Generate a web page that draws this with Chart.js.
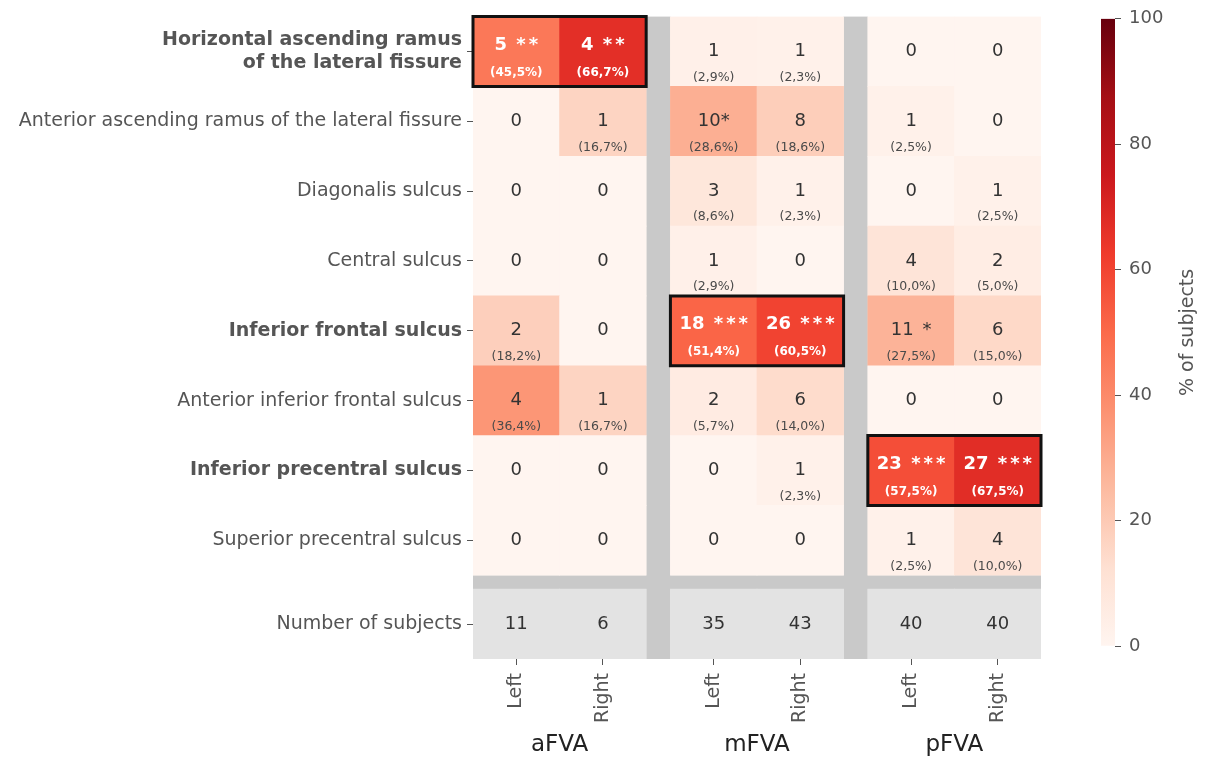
<!DOCTYPE html>
<html>
<head>
<meta charset="utf-8">
<script src="https://cdn.jsdelivr.net/npm/chart.js@4.4.1/dist/chart.umd.min.js"></script>
<style>
  html, body { margin: 0; padding: 0; background: #fff; }
  #heat { position: absolute; left: 0; top: 0; }
  #cbar { position: absolute; left: 1060px; top: 0; }
</style>
</head>
<body>
<canvas id="heat" width="1060" height="758"></canvas>
<canvas id="cbar" width="145" height="700"></canvas>
<script>
// --- data ---
const rowLabels = [
  ["Horizontal ascending ramus", "of the lateral fissure"],
  "Anterior ascending ramus of the lateral fissure",
  "Diagonalis sulcus",
  "Central sulcus",
  "Inferior frontal sulcus",
  "Anterior inferior frontal sulcus",
  "Inferior precentral sulcus",
  "Superior precentral sulcus",
  "Number of subjects"
];
const boldRows = [0, 4, 6];
const groups = ["aFVA", "mFVA", "pFVA"];
const sides = ["Left", "Right"];

// columns: aFVA L, aFVA R, mFVA L, mFVA R, pFVA L, pFVA R
const counts = [
  [5, 4, 1, 1, 0, 0],
  [0, 1, 10, 8, 1, 0],
  [0, 0, 3, 1, 0, 1],
  [0, 0, 1, 0, 4, 2],
  [2, 0, 18, 26, 11, 6],
  [4, 1, 2, 6, 0, 0],
  [0, 0, 0, 1, 23, 27],
  [0, 0, 0, 0, 1, 4]
];
const percents = [
  [45.5, 66.7, 2.9, 2.3, 0, 0],
  [0, 16.7, 28.6, 18.6, 2.5, 0],
  [0, 0, 8.6, 2.3, 0, 2.5],
  [0, 0, 2.9, 0, 10.0, 5.0],
  [18.2, 0, 51.4, 60.5, 27.5, 15.0],
  [36.4, 16.7, 5.7, 14.0, 0, 0],
  [0, 0, 0, 2.3, 57.5, 67.5],
  [0, 0, 0, 0, 2.5, 10.0]
];
const stars = [
  [" **", " **", "", "", "", ""],
  ["", "", "*", "", "", ""],
  ["", "", "", "", "", ""],
  ["", "", "", "", "", ""],
  ["", "", " ***", " ***", " *", ""],
  ["", "", "", "", "", ""],
  ["", "", "", "", " ***", " ***"],
  ["", "", "", "", "", ""]
];
const subjects = [11, 6, 35, 43, 40, 40];
// highlighted pairs: [row, group]
const boxes = [[0, 0], [4, 1], [6, 2]];
const cbarTicks = [0, 20, 40, 60, 80, 100];

// --- layout helpers ---
const GAP = 0.28;      // width of the grey separators, in column units
const ROWGAP = 0.2;    // grey band above the subjects row
const FONT = "'DejaVu Sans', Verdana, sans-serif";
const reds = ['#fff5f0','#fee0d2','#fcbba1','#fc9272','#fb6a4a','#ef3b2c','#cb181d','#a50f15','#67000d'];

function hex(c) { return [1, 3, 5].map(i => parseInt(c.substr(i, 2), 16)); }
function redsColor(p) {
  const t = Math.max(0, Math.min(1, p / 100)) * (reds.length - 1);
  const i = Math.min(Math.floor(t), reds.length - 2);
  const f = t - i;
  const a = hex(reds[i]), b = hex(reds[i + 1]);
  const m = a.map((v, k) => Math.round(v + (b[k] - v) * f));
  return 'rgb(' + m.join(',') + ')';
}
const colLeft = c => Math.floor(c / 2) * (2 + GAP) + (c % 2);
const rowTop = r => r < 8 ? r : 8 + ROWGAP;
const XMAX = 6 + 2 * GAP;
const YMAX = 9 + ROWGAP;
const isBoxed = (r, c) => boxes.some(b => b[0] === r && b[1] === Math.floor(c / 2));

// cells
const cellData = [], cellColors = [];
counts.forEach((row, r) => row.forEach((v, c) => {
  cellData.push({ x: colLeft(c) + 0.5, y: [rowTop(r), rowTop(r) + 1] });
  cellColors.push(redsColor(percents[r][c]));
}));
subjects.forEach((v, c) => {
  cellData.push({ x: colLeft(c) + 0.5, y: [rowTop(8), rowTop(8) + 1] });
  cellColors.push('#e3e3e3');
});

// black frames around highlighted pairs
const boxData = [];
boxes.forEach(([r, g]) => {
  const x0 = g * (2 + GAP), x1 = x0 + 2;
  boxData.push({ x: x0, y: r }, { x: x1, y: r }, { x: x1, y: r + 1 }, { x: x0, y: r + 1 }, { x: x0, y: r }, { x: x0, y: null });
});

const separators = {
  id: 'separators',
  beforeDatasetsDraw(chart) {
    const { ctx, chartArea: a, scales: { x, y } } = chart;
    ctx.save();
    ctx.fillStyle = '#c9c9c9';
    for (let g = 1; g < 3; g++) {
      const x0 = x.getPixelForValue(g * (2 + GAP) - GAP), x1 = x.getPixelForValue(g * (2 + GAP));
      ctx.fillRect(x0, a.top, x1 - x0, a.bottom - a.top);
    }
    const y0 = y.getPixelForValue(8), y1 = y.getPixelForValue(8 + ROWGAP);
    ctx.fillRect(a.left, y0, a.right - a.left, y1 - y0);
    ctx.restore();
  }
};

// count followed by widely spaced significance stars
function drawCount(ctx, num, st, cx, cy) {
  ctx.letterSpacing = '0px';
  const w1 = ctx.measureText(num).width;
  ctx.letterSpacing = '3px';
  const w2 = st ? ctx.measureText(st).width - 3 : 0;
  const x0 = cx - (w1 + w2) / 2;
  ctx.textAlign = 'left';
  ctx.letterSpacing = '0px';
  ctx.fillText(num, x0, cy);
  if (st) {
    ctx.letterSpacing = '3px';
    ctx.fillText(st, x0 + w1, cy);
    ctx.letterSpacing = '0px';
  }
  ctx.textAlign = 'center';
}

const cellText = {
  id: 'cellText',
  afterDatasetsDraw(chart) {
    const { ctx, scales: { x, y } } = chart;
    ctx.save();
    ctx.textAlign = 'center';
    ctx.textBaseline = 'middle';
    counts.forEach((row, r) => row.forEach((v, c) => {
      const cx = x.getPixelForValue(colLeft(c) + 0.5);
      const cy = y.getPixelForValue(rowTop(r) + 0.5);
      const pct = '(' + percents[r][c].toFixed(1).replace('.', ',') + '%)';
      if (isBoxed(r, c)) {
        ctx.fillStyle = '#fff';
        ctx.font = 'bold 18px ' + FONT;
        drawCount(ctx, String(v), stars[r][c], cx, cy - 6);
        ctx.font = 'bold 12px ' + FONT;
        ctx.fillText(pct, cx, cy + 21);
      } else {
        ctx.fillStyle = '#333';
        ctx.font = '18px ' + FONT;
        drawCount(ctx, String(v), stars[r][c], cx, cy);
        if (v > 0) {
          ctx.fillStyle = '#4a4a4a';
          ctx.font = '12.5px ' + FONT;
          ctx.fillText(pct, cx, cy + 26);
        }
      }
    }));
    ctx.fillStyle = '#333';
    ctx.font = '18px ' + FONT;
    subjects.forEach((v, c) => {
      ctx.fillText(String(v), x.getPixelForValue(colLeft(c) + 0.5), y.getPixelForValue(rowTop(8) + 0.5));
    });
    ctx.restore();
  }
};

new Chart(document.getElementById('heat'), {
  type: 'bar',
  data: {
    datasets: [
      {
        type: 'line',
        data: boxData,
        borderColor: '#111',
        borderWidth: 3,
        pointRadius: 0,
        fill: false,
        tension: 0,
        spanGaps: false,
        borderJoinStyle: 'miter',
        borderCapStyle: 'square',
        clip: false,
        order: 0
      },
      {
        type: 'bar',
        data: cellData,
        backgroundColor: cellColors,
        borderWidth: 0,
        barPercentage: 1,
        categoryPercentage: 1,
        grouped: false,
        order: 1
      }
    ]
  },
  options: {
    responsive: false,
    animation: false,
    layout: { autoPadding: false, padding: { top: 15, right: 19, left: 0, bottom: 0 } },
    plugins: { legend: { display: false }, tooltip: { enabled: false } },
    scales: {
      x: {
        type: 'linear', min: 0, max: XMAX, offset: false,
        afterBuildTicks: s => { s.ticks = [0, 1, 2, 3, 4, 5].map(c => ({ value: colLeft(c) + 0.5 })); },
        afterFit: s => { s.height = 68; },
        ticks: {
          autoSkip: false, minRotation: 90, maxRotation: 90, padding: 8,
          color: '#555', font: { family: FONT, size: 19 },
          callback: (v, i) => sides[i % 2]
        },
        grid: { display: true, offset: false, drawOnChartArea: false, drawTicks: true, tickLength: 6, color: '#555' },
        border: { display: false }
      },
      x2: {
        type: 'linear', position: 'bottom', min: 0, max: XMAX, offset: false,
        afterBuildTicks: s => { s.ticks = [0, 1, 2].map(g => ({ value: g * (2 + GAP) + 1 })); },
        afterFit: s => { s.height = 31; },
        ticks: {
          autoSkip: false, maxRotation: 0, padding: 4,
          color: '#222', font: { family: FONT, size: 23 },
          callback: (v, i) => groups[i]
        },
        grid: { display: false, drawTicks: false },
        border: { display: false }
      },
      y: {
        type: 'linear', reverse: true, min: 0, max: YMAX,
        afterBuildTicks: s => { s.ticks = rowLabels.map((l, r) => ({ value: rowTop(r) + 0.5 })); },
        afterFit: s => { s.width = 473; },
        ticks: {
          autoSkip: false, padding: 5,
          color: '#555',
          font: ctx => ({ family: FONT, size: 19, lineHeight: 1.22, weight: boldRows.includes(ctx.index) ? 'bold' : 'normal' }),
          callback: (v, i) => rowLabels[i]
        },
        grid: { display: true, drawOnChartArea: false, drawTicks: true, tickLength: 6, color: '#555' },
        border: { display: false }
      }
    }
  },
  plugins: [separators, cellText]
});

// --- colour bar ---
const cbarTitle = {
  id: 'cbarTitle',
  afterDraw(chart) {
    const { ctx, scales: { y } } = chart;
    ctx.save();
    ctx.translate(128, (y.top + y.bottom) / 2);
    ctx.rotate(-Math.PI / 2);
    ctx.textAlign = 'center';
    ctx.textBaseline = 'middle';
    ctx.fillStyle = '#555';
    ctx.font = '19px ' + FONT;
    ctx.fillText('% of subjects', 0, 0);
    ctx.restore();
  }
};

new Chart(document.getElementById('cbar'), {
  type: 'bar',
  data: {
    labels: [''],
    datasets: [{
      data: [[cbarTicks[0], cbarTicks[cbarTicks.length - 1]]],
      backgroundColor: ctx => {
        const { chartArea, scales } = ctx.chart;
        if (!chartArea) return reds[4];
        const g = ctx.chart.ctx.createLinearGradient(0, scales.y.getPixelForValue(0), 0, scales.y.getPixelForValue(100));
        reds.forEach((c, i) => g.addColorStop(i / (reds.length - 1), c));
        return g;
      },
      borderWidth: 0,
      barPercentage: 1,
      categoryPercentage: 1
    }]
  },
  options: {
    responsive: false,
    animation: false,
    layout: { autoPadding: false, padding: { left: 41, top: 17, bottom: 54, right: 0 } },
    plugins: { legend: { display: false }, tooltip: { enabled: false } },
    scales: {
      x: { display: false },
      y: {
        position: 'right', min: 0, max: 100,
        afterBuildTicks: s => { s.ticks = cbarTicks.map(v => ({ value: v })); },
        afterFit: s => { s.width = 90; },
        ticks: { color: '#555', font: { family: FONT, size: 18 }, padding: 8 },
        grid: { display: true, drawOnChartArea: false, drawTicks: true, tickLength: 6, color: '#555' },
        border: { display: false }
      }
    }
  },
  plugins: [cbarTitle]
});
</script>
</body>
</html>
